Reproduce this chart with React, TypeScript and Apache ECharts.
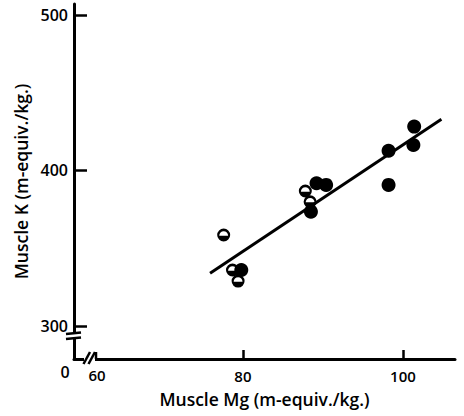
import React, { useEffect, useRef } from "react";
import * as echarts from "echarts";

// Muscle Mg (m-equiv./kg.) vs Muscle K (m-equiv./kg.)
const halfFilledMg = [77.6, 78.7, 79.4, 87.8, 88.4];
const halfFilledK = [358.5, 336.0, 328.9, 386.8, 379.9];

const filledMg = [79.8, 88.5, 89.2, 90.4, 98.2, 98.2, 101.4, 101.3];
const filledK = [336.0, 373.5, 391.8, 390.7, 412.7, 390.7, 428.2, 416.4];

const lineMg = [75.9, 104.8];
const lineK = [333.9, 432.9];

const xTicks = [80, 100];
const yTicks = [300, 400, 500];

const FONT = "Open Sans";
const INK = "#000";

const HALF_PATH =
  "path://M0,10 A10,10 0 1,1 20,10 A10,10 0 1,1 0,10 Z M3.2,11 L16.8,11 A6.8,6.8 0 0,0 3.2,11 Z";

export default function App() {
  const ref = useRef<HTMLDivElement>(null);

  useEffect(() => {
    if (!ref.current) return;
    const chart = echarts.init(ref.current, null, { renderer: "svg" });
    const zip = (a: number[], b: number[]) => a.map((v, i) => [v, b[i]]);

    chart.setOption({
      animation: false,
      backgroundColor: "#fff",
      textStyle: { fontFamily: FONT },
      grid: { left: 74, top: 4, right: 9, bottom: 57 },
      xAxis: {
        type: "value",
        min: 58.9,
        max: 106.5,
        splitLine: { show: false },
        axisLine: { show: true, lineStyle: { color: INK, width: 3 } },
        axisTick: {
          show: true,
          inside: true,
          length: 9,
          customValues: xTicks,
          lineStyle: { color: INK, width: 2.5 },
        },
        axisLabel: {
          customValues: xTicks,
          margin: 9,
          fontSize: 15,
          fontWeight: 600,
          color: INK,
          fontFamily: FONT,
        },
        name: "Muscle Mg (m-equiv./kg.)",
        nameLocation: "middle",
        nameGap: 31,
        nameTextStyle: { fontSize: 17.5, fontWeight: 600, color: INK, fontFamily: FONT },
      },
      yAxis: {
        type: "value",
        min: 278.8,
        max: 507,
        splitLine: { show: false },
        axisLine: { show: true, lineStyle: { color: INK, width: 3 } },
        axisTick: {
          show: true,
          inside: true,
          length: 13,
          customValues: yTicks,
          lineStyle: { color: INK, width: 2.5 },
        },
        axisLabel: {
          customValues: yTicks,
          margin: 6,
          fontSize: 16,
          fontWeight: 600,
          color: INK,
          fontFamily: FONT,
        },
        name: "Muscle K (m-equiv./kg.)",
        nameLocation: "middle",
        nameGap: 42,
        nameTextStyle: { fontSize: 17.5, fontWeight: 600, color: INK, fontFamily: FONT },
      },
      series: [
        {
          type: "line",
          data: zip(lineMg, lineK),
          showSymbol: false,
          symbol: "none",
          lineStyle: { color: INK, width: 3 },
          z: 1,
        },
        {
          type: "scatter",
          data: zip(halfFilledMg, halfFilledK),
          symbol: HALF_PATH,
          symbolSize: 13,
          itemStyle: { color: INK, opacity: 1 },
          z: 3,
        },
        {
          type: "scatter",
          data: zip(filledMg, filledK),
          symbol: "circle",
          symbolSize: 14,
          itemStyle: { color: INK, opacity: 1 },
          z: 3,
        },
      ],
      graphic: [
        // y-axis break
        { type: "rect", shape: { x: 70, y: 333, width: 10, height: 6 }, style: { fill: "#fff" }, z: 100 },
        { type: "line", shape: { x1: 66, y1: 334, x2: 81, y2: 332.5 }, style: { stroke: INK, lineWidth: 2.5 }, z: 101 },
        { type: "line", shape: { x1: 66, y1: 339, x2: 81, y2: 337.5 }, style: { stroke: INK, lineWidth: 2.5 }, z: 101 },
        // x-axis break
        { type: "rect", shape: { x: 84, y: 355, width: 11, height: 8 }, style: { fill: "#fff" }, z: 100 },
        { type: "line", shape: { x1: 83.5, y1: 364, x2: 90, y2: 352 }, style: { stroke: INK, lineWidth: 2.5 }, z: 101 },
        { type: "line", shape: { x1: 88.5, y1: 364, x2: 95, y2: 352 }, style: { stroke: INK, lineWidth: 2.5 }, z: 101 },
        { type: "line", shape: { x1: 96, y1: 352, x2: 96, y2: 359 }, style: { stroke: INK, lineWidth: 2.5 }, z: 101 },
        // origin labels
        {
          type: "text",
          x: 65,
          y: 372,
          style: { text: "0", fontSize: 16, fontWeight: 600, fill: INK, fontFamily: FONT, align: "center", verticalAlign: "middle" },
          z: 101,
        },
        {
          type: "text",
          x: 97,
          y: 375,
          style: { text: "60", fontSize: 15, fontWeight: 600, fill: INK, fontFamily: FONT, align: "center", verticalAlign: "middle" },
          z: 101,
        },
      ],
    });

    return () => chart.dispose();
  }, []);

  return (
    <div
      ref={ref}
      style={{ position: "absolute", left: 0, top: 0, width: 464, height: 416 }}
    />
  );
}
